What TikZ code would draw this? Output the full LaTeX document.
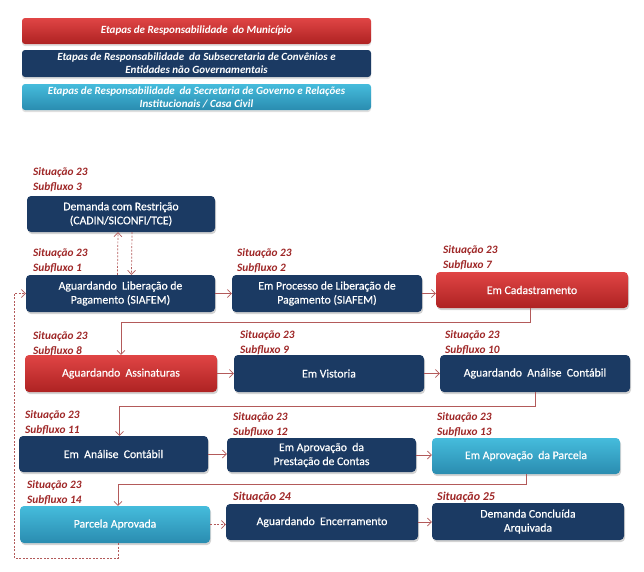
\documentclass[tikz,border=0pt]{standalone}
\usepackage{fontspec}
\setmainfont{Carlito}
\newfontfamily\boxfont[FakeBold=0.4]{Carlito}
\usetikzlibrary{arrows.meta,shadows,calc}
\definecolor{dblue}{HTML}{1B3A63}
\definecolor{redtop}{HTML}{E04545}
\definecolor{redbot}{HTML}{AE2222}
\definecolor{cyantop}{HTML}{45BCDC}
\definecolor{cyanbot}{HTML}{2A8CB0}
\definecolor{lblred}{HTML}{9E2626}
\definecolor{arr}{HTML}{B35A5A}
\tikzset{
  stage/.style={rounded corners=4pt, minimum width=190pt, minimum height=37pt,
    text=white, align=center, font=\boxfont\fontsize{11.7}{14}\selectfont, inner sep=2pt,
    drop shadow={shadow xshift=1pt, shadow yshift=-2pt, opacity=0.35}},
  bluebox/.style={stage, fill=dblue},
  redbox/.style={stage, top color=redtop, bottom color=redbot},
  cyanbox/.style={stage, top color=cyantop, bottom color=cyanbot},
  legend/.style={rounded corners=3pt, minimum width=349pt, text=white, align=center,
    font=\fontsize{11}{13}\selectfont\bfseries\itshape, inner sep=1pt,
    drop shadow={shadow xshift=0pt, shadow yshift=-2pt, opacity=0.25}},
  lbl/.style={anchor=west, align=left, inner sep=0pt, text=lblred,
    font=\fontsize{11.3}{14.8}\selectfont\bfseries\itshape},
  lblbig/.style={anchor=west, inner sep=0pt, text=lblred,
    font=\fontsize{12}{14}\selectfont\bfseries\itshape},
  flow/.style={draw=arr, line width=0.7pt, -{Straight Barb[length=4pt,width=8pt]}},
  dflow/.style={flow, dash pattern=on 2pt off 1.5pt},
}
\begin{document}
\begin{tikzpicture}[x=1pt,y=-1pt]
\useasboundingbox (0,0) rectangle (644,571);
% legend
\node[legend, minimum height=26pt, top color=redtop, bottom color=redbot] (lg1) at (196.5,31) {Etapas de Responsabilidade\ \ do Município};
\node[legend, minimum height=27pt, fill=dblue] (lg2) at (196.5,63.5) {Etapas de Responsabilidade\ \ da Subsecretaria de Convênios e\\Entidades não Governamentais};
\node[legend, minimum height=26pt, top color=cyantop, bottom color=cyanbot] (lg3) at (196.5,97) {Etapas de Responsabilidade\ \ da Secretaria de Governo e Relações\\Institucionais / Casa Civil};
% boxes
\node[bluebox, minimum width=188pt, minimum height=36pt] (dem) at (121,214) {Demanda com Restrição\\(CADIN/SICONFI/TCE)};
\node[bluebox, minimum width=189pt] (a1) at (120.5,293.5) {Aguardando\ \ Liberação de\\Pagamento (SIAFEM)};
\node[bluebox] (a2) at (327,293.5) {Em Processo de Liberação de\\Pagamento (SIAFEM)};
\node[redbox, minimum width=192pt, minimum height=36pt] (a3) at (532,290) {Em Cadastramento};
\node[redbox, minimum width=192pt] (b1) at (121,373.5) {Aguardando\ \ Assinaturas};
\node[bluebox] (b2) at (329,373.5) {Em Vistoria};
\node[bluebox] (b3) at (535,373.5) {Aguardando\ \ Análise\ \ Contábil};
\node[bluebox, minimum width=189pt, minimum height=36pt] (c1) at (113.5,454) {Em\ \ Análise\ \ Contábil};
\node[bluebox, minimum width=189pt, minimum height=34pt] (c2) at (321.5,455) {Em Aprovação\ \ da\\Prestação de Contas};
\node[cyanbox, minimum width=188pt, minimum height=36pt] (c3) at (526,456) {Em Aprovação\ \ da Parcela};
\node[cyanbox] (d1) at (115,524.5) {Parcela Aprovada};
\node[bluebox, minimum width=192pt, minimum height=36pt] (d2) at (322,522) {Aguardando\ \ Encerramento};
\node[bluebox, minimum width=192pt] (d3) at (528,521.5) {Demanda Concluída\\Arquivada};
% labels
\node[lbl] (l0) at (33,179.5) {Situação 23\\Subfluxo 3};
\node[lbl] (l1) at (33,261) {Situação 23\\Subfluxo 1};
\node[lbl] (l2) at (237,261) {Situação 23\\Subfluxo 2};
\node[lbl] (l3) at (443,257.5) {Situação 23\\Subfluxo 7};
\node[lbl] (l4) at (33,343.5) {Situação 23\\Subfluxo 8};
\node[lbl] (l5) at (240,342.5) {Situação 23\\Subfluxo 9};
\node[lbl] (l6) at (445,342.5) {Situação 23\\Subfluxo 10};
\node[lbl] (l7) at (25,422.5) {Situação 23\\Subfluxo 11};
\node[lbl] (l8) at (233,425) {Situação 23\\Subfluxo 12};
\node[lbl] (l9) at (437,425) {Situação 23\\Subfluxo 13};
\node[lbl] (l10) at (27,493) {Situação 23\\Subfluxo 14};
\node[lblbig] (l11) at (233,497) {Situação 24};
\node[lblbig] (l12) at (437,497) {Situação 25};
% connectors
\draw[flow] (a1.east) -- (a2.west);
\draw[flow] (a2.east) -- (a2.east -| a3.west);
\draw[flow] ([xshift=-2pt]a3.south) -- ++(0,14) -| (b1.north);
\draw[flow] (b1.east) -- (b2.west);
\draw[flow] (b2.east) -- (b3.west);
\draw[flow] (b3.south) -- ++(0,14) -| ([xshift=6pt]c1.north);
\draw[flow] (c1.east) -- (c1.east -| c2.west);
\draw[flow] (c2.east) -- (c2.east -| c3.west);
\draw[flow] (c3.south) -- ++(0,10) -| ([xshift=3pt]d1.north);
\draw[dflow] (d1.east) -- (d1.east -| d2.west);
\draw[flow] (d2.east) -- (d2.east -| d3.west);
\coordinate (lpA) at ($(d1.south)+(3,15)$);
\coordinate (lpB) at (14,293.5);
\draw[dflow] ([xshift=3pt]d1.south) -- (lpA) -| (lpB) -- (a1.west);
\draw[dflow] ([xshift=-3pt]a1.north) -- ([xshift=-3pt]dem.south);
\draw[dflow] ([xshift=11pt]dem.south) -- ([xshift=11pt]a1.north);
\end{tikzpicture}
\end{document}
